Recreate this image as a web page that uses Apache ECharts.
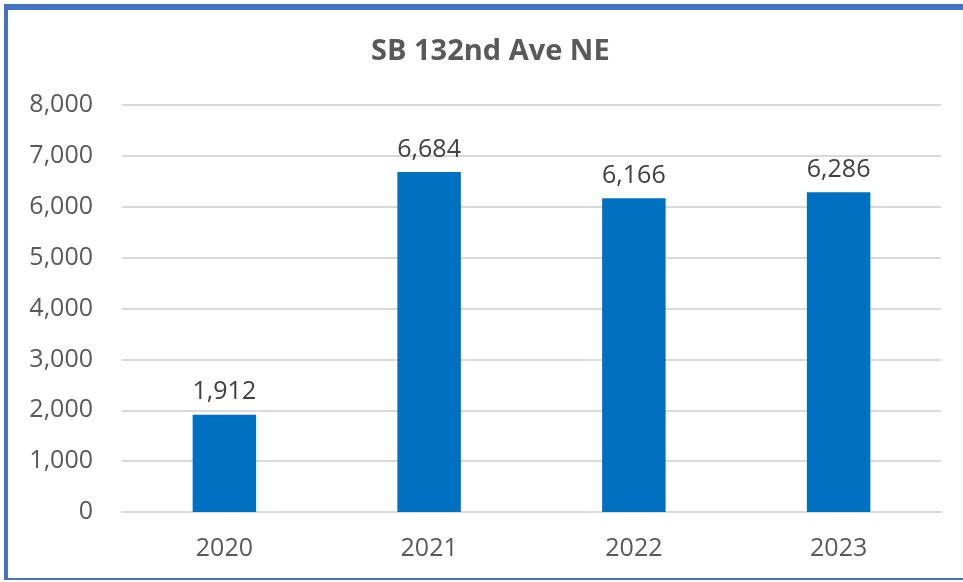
<!DOCTYPE html>
<html>
<head>
<meta charset="utf-8">
<script src="https://cdn.jsdelivr.net/npm/echarts@6/dist/echarts.min.js"></script>
<style>
  html, body { margin: 0; padding: 0; background: #fff; }
  #main { position: absolute; left: 0; top: 0; width: 963px; height: 582px; }
  #frame {
    position: absolute; left: 4px; top: 4px; width: 980px; height: 568px;
    border-left: 4px solid #4472C4; border-top: 6px solid #4472C4; border-bottom: 2px solid #4472C4;
    pointer-events: none;
  }
</style>
</head>
<body>
<div id="main"></div>
<div id="frame"></div>
<script>
// 数据
var years = ['2020', '2021', '2022', '2023'];
var counts = [1912, 6684, 6166, 6286];
var yTicks = [0, 1000, 2000, 3000, 4000, 5000, 6000, 7000, 8000];

var myChart = echarts.init(document.getElementById('main'));
var fontName = 'Open Sans';

var option = {
    animation: false,
    title: {
        text: 'SB 132nd Ave NE',
        left: 366,
        top: 32,
        textStyle: { fontFamily: fontName, fontSize: 29, fontWeight: 'bold', color: '#595959' }
    },
    grid: { left: 122, right: 22, top: 105, bottom: 70 },
    xAxis: {
        type: 'category',
        data: years,
        axisLine: { lineStyle: { color: '#d9d9d9', width: 2 } },
        axisTick: { show: false },
        axisLabel: { fontFamily: fontName, fontSize: 25, color: '#595959', margin: 24 }
    },
    yAxis: {
        type: 'value',
        min: yTicks[0],
        max: yTicks[yTicks.length - 1],
        interval: 1000,
        axisLine: { show: false },
        axisTick: { show: false },
        splitLine: { lineStyle: { color: '#d9d9d9', width: 2 } },
        axisLabel: {
            fontFamily: fontName, fontSize: 25, color: '#595959', margin: 29,
            formatter: function (v) { return v.toLocaleString('en-US'); }
        }
    },
    series: [{
        type: 'bar',
        data: counts,
        barWidth: '31%',
        itemStyle: { color: '#0070C0' },
        label: {
            show: true,
            position: 'top',
            distance: 10,
            fontFamily: fontName, fontSize: 25, color: '#404040',
            formatter: function (p) { return p.value.toLocaleString('en-US'); }
        }
    }]
};
myChart.setOption(option);
</script>
</body>
</html>
